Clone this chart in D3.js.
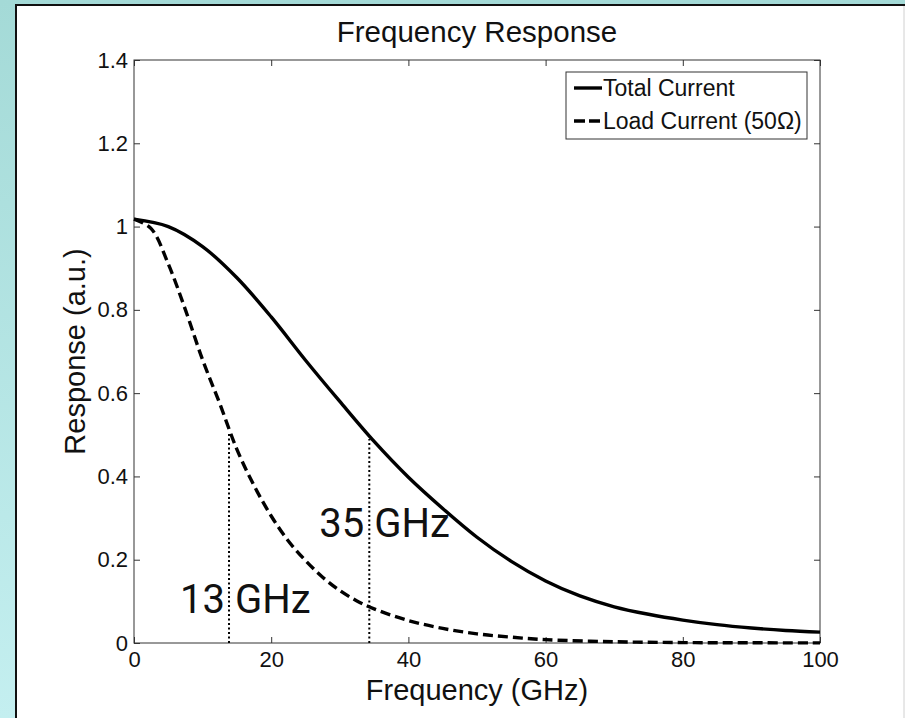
<!DOCTYPE html>
<html>
<head>
<meta charset="utf-8">
<script src="https://cdn.jsdelivr.net/npm/d3@7"></script>
<style>
  body { margin: 0; background: #fff; }
  svg { display: block; }
</style>
</head>
<body>
<svg id="chart" width="905" height="718"></svg>
<script>
// frequency samples (GHz) and readings from the picture
let totalFreq = [0, 5, 10, 15, 20, 25, 30, 35, 40, 45, 50, 55, 60, 65, 70, 75, 80, 85, 90, 95, 100];
let totalResp = [1.018, 1.0, 0.952, 0.877, 0.783, 0.679, 0.58, 0.484, 0.398, 0.323, 0.254, 0.196, 0.149, 0.113, 0.087, 0.069, 0.055, 0.044, 0.036, 0.03, 0.026];

let loadFreq = [0, 2.5, 5, 7.5, 10, 12.5, 15, 17.5, 20, 22.5, 25, 27.5, 30, 32.5, 35, 40, 45, 50, 55, 60, 70, 80, 90, 100];
let loadResp = [1.018, 0.995, 0.91, 0.8, 0.68, 0.575, 0.465, 0.378, 0.305, 0.245, 0.198, 0.158, 0.126, 0.101, 0.082, 0.054, 0.035, 0.022, 0.014, 0.008, 0.003, 0.001, 0.0005, 0.0003];

// -3dB markers
let markFreq = [13.85, 34.3];
let markResp = [0.505, 0.49];
let markLabel = ["13 GHz", "35 GHz"];

let xTicks = [0, 20, 40, 60, 80, 100];
let yTicks = [0, 0.2, 0.4, 0.6, 0.8, 1, 1.2, 1.4];
let legendNames = ["Total Current", "Load Current (50\u03A9)"];

let width = 905, height = 718;
let margin = { top: 60, left: 134, right: 85, bottom: 75 };
let font = "'Liberation Sans', Arial, sans-serif";

let svg = d3.select("#chart");

// backdrop: teal frame + white sheet
let defs = svg.append("defs");
let grad = defs.append("linearGradient")
    .attr("id", "bg")
    .attr("x1", 0).attr("y1", 0).attr("x2", 0).attr("y2", 1);
grad.append("stop").attr("offset", "0%").attr("stop-color", "#a4dad7");
grad.append("stop").attr("offset", "100%").attr("stop-color", "#c4eff0");

svg.append("rect").attr("width", width).attr("height", height).attr("fill", "url(#bg)");
svg.append("rect").attr("x", 16).attr("y", 5).attr("width", width - 16).attr("height", height - 5).attr("fill", "#fff");
svg.append("path").attr("d", `M16,${height}V5H${width}`).attr("fill", "none").attr("stroke", "#111").attr("stroke-width", 2);
svg.append("line").attr("x1", width - 1).attr("x2", width - 1).attr("y1", 6).attr("y2", height)
    .attr("stroke", "#d0d0d0").attr("stroke-width", 1);

let x = d3.scaleLinear().domain([0, 100]).range([margin.left, width - margin.right]);
let y = d3.scaleLinear().domain([0, 1.4]).range([height - margin.bottom, margin.top]);

let g = svg.append("g");

// axes box (MATLAB style, ticks on all four sides pointing in)
let tickLen = 6;
g.append("g")
    .attr("transform", `translate(0,${y(0)})`)
    .call(d3.axisBottom(x).tickValues(xTicks).tickSizeInner(-tickLen).tickSizeOuter(0).tickPadding(8).tickFormat(d3.format("d")))
    .call(a => a.select(".domain").remove());
g.append("g")
    .attr("transform", `translate(0,${y(1.4)})`)
    .call(d3.axisTop(x).tickValues(xTicks).tickSizeInner(-tickLen).tickSizeOuter(0).tickFormat(""))
    .call(a => a.select(".domain").remove());
g.append("g")
    .attr("transform", `translate(${x(0)},0)`)
    .call(d3.axisLeft(y).tickValues(yTicks).tickSizeInner(-tickLen).tickSizeOuter(0).tickPadding(6).tickFormat(d => d3.format("~g")(d)))
    .call(a => a.select(".domain").remove());
g.append("g")
    .attr("transform", `translate(${x(100)},0)`)
    .call(d3.axisRight(y).tickValues(yTicks).tickSizeInner(-tickLen).tickSizeOuter(0).tickFormat(""))
    .call(a => a.select(".domain").remove());

g.selectAll(".tick line").attr("stroke", "#333");
g.selectAll(".tick text")
    .attr("font-family", font)
    .attr("font-size", "22px")
    .attr("fill", "#111");

g.append("rect")
    .attr("x", x(0)).attr("y", y(1.4))
    .attr("width", x(100) - x(0)).attr("height", y(0) - y(1.4))
    .attr("fill", "none").attr("stroke", "#333").attr("stroke-width", 1);

// -3dB marker lines
g.selectAll(".mark")
    .data(markFreq)
    .enter().append("line")
    .attr("class", "mark")
    .attr("x1", d => x(d)).attr("x2", d => x(d))
    .attr("y1", y(0)).attr("y2", (d, i) => y(markResp[i]))
    .attr("stroke", "#000").attr("stroke-width", 2)
    .attr("stroke-dasharray", "2,2.5");

// curves
let line = d3.line()
    .x(d => x(d[0]))
    .y(d => y(d[1]))
    .curve(d3.curveCatmullRom);

g.append("path")
    .datum(totalFreq.map((f, i) => [f, totalResp[i]]))
    .attr("d", line)
    .attr("fill", "none").attr("stroke", "#000").attr("stroke-width", 3.4);

g.append("path")
    .datum(loadFreq.map((f, i) => [f, loadResp[i]]))
    .attr("d", line)
    .attr("fill", "none").attr("stroke", "#000").attr("stroke-width", 3.4)
    .attr("stroke-dasharray", "10,5");

// big annotations
let labelDx = [-49, -50];
let labelY = [613, 537];
g.selectAll(".mark-label")
    .data(markLabel)
    .enter().append("text")
    .attr("class", "mark-label")
    .attr("x", (d, i) => x(markFreq[i]) + labelDx[i])
    .attr("y", (d, i) => labelY[i])
    .attr("font-family", "Roboto, 'Noto Sans', sans-serif")
    .attr("font-size", "40px")
    .attr("fill", "#111")
    .style("white-space", "pre")
    .text(d => d);

// title and axis labels
svg.append("text")
    .attr("x", (x(0) + x(100)) / 2).attr("y", 42)
    .attr("text-anchor", "middle")
    .attr("font-family", font).attr("font-size", "29.5px").attr("fill", "#111")
    .text("Frequency Response");

svg.append("text")
    .attr("x", (x(0) + x(100)) / 2).attr("y", 700)
    .attr("text-anchor", "middle")
    .attr("font-family", font).attr("font-size", "29px").attr("fill", "#111")
    .text("Frequency (GHz)");

svg.append("text")
    .attr("transform", `translate(85,${(y(0) + y(1.4)) / 2}) rotate(-90)`)
    .attr("text-anchor", "middle")
    .attr("font-family", font).attr("font-size", "29px").attr("fill", "#111")
    .text("Response (a.u.)");

// legend
let leg = svg.append("g").attr("transform", "translate(566,72)");
leg.append("rect")
    .attr("width", 241).attr("height", 67)
    .attr("fill", "#fff").attr("stroke", "#333").attr("stroke-width", 1);
let rows = leg.selectAll(".row")
    .data(legendNames)
    .enter().append("g")
    .attr("class", "row")
    .attr("transform", (d, i) => `translate(0,${16 + i * 33})`);
rows.append("line")
    .attr("x1", 8).attr("x2", 36)
    .attr("stroke", "#000").attr("stroke-width", 3.4)
    .attr("stroke-dasharray", (d, i) => i === 1 ? "11,4" : null);
rows.append("text")
    .attr("x", 37).attr("y", 8)
    .attr("font-family", font).attr("font-size", "23px").attr("fill", "#111")
    .text(d => d);
</script>
</body>
</html>
